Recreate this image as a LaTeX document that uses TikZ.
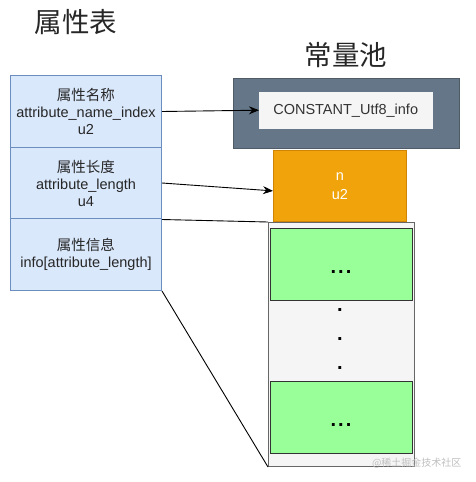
\documentclass[tikz,border=0pt]{standalone}
\usepackage{fontspec}
\setmainfont{Liberation Sans}
\newfontfamily\cjk{Noto Sans CJK SC}
\usetikzlibrary{arrows.meta}
\definecolor{lblue}{HTML}{DAE8FC}
\definecolor{bblue}{HTML}{6C8EBF}
\definecolor{slate}{HTML}{647687}
\definecolor{slateb}{HTML}{4F5B66}
\definecolor{orng}{HTML}{F0A30A}
\definecolor{orngb}{HTML}{BD7000}
\definecolor{lgray}{HTML}{F5F5F5}
\definecolor{grn}{HTML}{99FF99}
\tikzset{
  x=1pt,y=-1pt,
  lbl/.style={font=\fontsize{14.5}{17}\selectfont, align=center, text=black!85},
  fieldbox/.style={draw=bblue, fill=lblue, line width=1pt, minimum width=151pt, minimum height=72pt, anchor=north west, inner sep=0pt},
  title/.style={font=\cjk\fontsize{27.5}{32}\selectfont, text=black!85},
  conn/.style={line width=0.9pt, black},
  arr/.style={conn, -{Stealth[length=10pt,width=8pt]}},
  greenbox/.style={draw=black!80, fill=grn, line width=1pt, minimum width=142pt, minimum height=72pt, anchor=north west, inner sep=0pt},
  dots/.style={font=\fontsize{20}{24}\selectfont\bfseries, anchor=base, inner sep=0pt},
}
\begin{document}
\begin{tikzpicture}
\useasboundingbox (0,0) rectangle (475,482);
\node[title] (t1) at (76,22) {属性表};
\node[title] (t2) at (346,55) {常量池};
% left table
\node[fieldbox, lbl] (f1) at (10,75) {{\cjk 属性名称}\\attribute\_name\_index\\u2};
\node[fieldbox, lbl] (f2) at (10,146.5) {{\cjk 属性长度}\\attribute\_length\\u4};
\node[fieldbox, lbl] (f3) at (10,218) {{\cjk 属性信息}\\info[attribute\_length]};
% constant pool
\node[draw=slateb, fill=slate, line width=1pt, minimum width=226pt, minimum height=70pt, anchor=north west, inner sep=0pt] (cp) at (233,78) {};
\node[fill=lgray, draw=lgray, minimum width=173pt, minimum height=36pt, anchor=north west, inner sep=0pt, lbl, text=black!80] (utf) at (259,92) {CONSTANT\_Utf8\_info};
\node[draw=orngb!60!orng, fill=orng, line width=0.8pt, minimum width=133pt, minimum height=71pt, anchor=north west, inner sep=0pt, lbl, font=\fontsize{14.5}{19}\selectfont, text=white] (len) at (273,150) {n\\u2};
\node[draw=black!60, fill=lgray, line width=1pt, minimum width=146pt, minimum height=244pt, anchor=north west, inner sep=0pt] (info) at (268,222) {};
\node[greenbox] (g1) at (270,228) {};
\node[greenbox] (g2) at (270,381) {};
\node[dots] (e1) at (341,273.5) {.\kern2pt.\kern2pt.};
\node[dots] (e2) at (341,426.5) {.\kern2pt.\kern2pt.};
\node[dots] (d1) at (340,311.5) {.};
\node[dots] (d2) at (340,340.5) {.};
\node[dots] (d3) at (340,369.5) {.};
% connectors
\draw[arr] (f1.east) -- (utf.west);
\draw[arr] (f2.east) -- ([yshift=-5pt]len.west);
\draw[conn] (f2.south east) -- (info.north west);
\draw[conn] (f3.south east) -- (info.south west);
\node[font=\cjk\fontsize{10}{12}\selectfont, text=black!25, anchor=east] (wm) at (465,463) {@稀土掘金技术社区};
\end{tikzpicture}
\end{document}
